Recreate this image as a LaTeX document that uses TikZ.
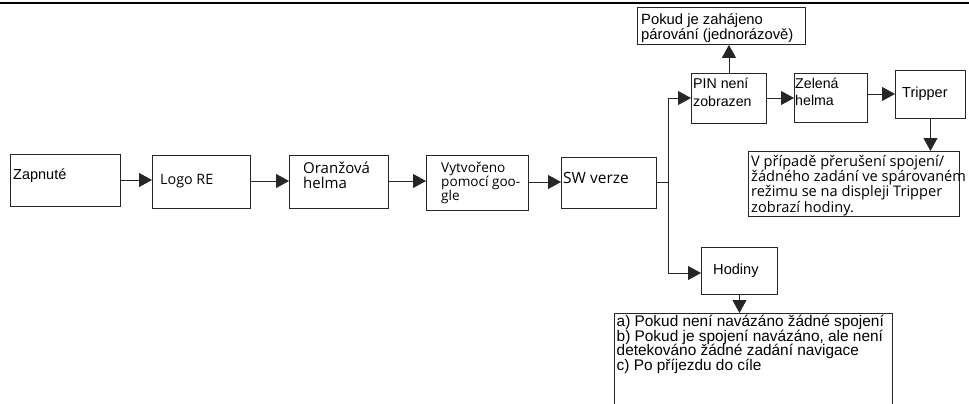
\documentclass[tikz,border=0pt]{standalone}
\usepackage{fontspec}
\setmainfont{Liberation Sans}
\newfontfamily\os{Open Sans}
\usetikzlibrary{arrows.meta}
\begin{document}
\begin{tikzpicture}[x=1pt,y=-1pt,
  bx/.style={draw=black!85, line width=0.9pt, anchor=north west, inner sep=0pt},
  tx/.style={anchor=base west, inner sep=0pt, align=left},
  ar/.style={draw=black!85, line width=0.9pt, -{Triangle[length=13pt,width=14pt]}},
  ln/.style={draw=black!85, line width=0.9pt},
  fa/.style={font=\fontsize{14.5}{17}\selectfont},
  fo/.style={font=\os\fontsize{15}{15}\selectfont}]
\useasboundingbox (0,0) rectangle (969,404);
\clip (0,0) rectangle (969,404);
\draw[line width=2.4pt] (0,3) -- (969,3);
% boxes
\node[bx, minimum width=110pt, minimum height=52pt] (zap) at (10,154) {};
\node[bx, minimum width=98pt, minimum height=53pt] (logo) at (152,155) {};
\node[bx, minimum width=99pt, minimum height=53pt] (oran) at (289,155) {};
\node[bx, minimum width=102pt, minimum height=55pt] (vytv) at (426,155) {};
\node[bx, minimum width=95pt, minimum height=51pt] (sw) at (561,157) {};
\node[bx, minimum width=75pt, minimum height=50pt] (pin) at (691,73) {};
\node[bx, minimum width=168pt, minimum height=37pt] (pokud) at (637,7) {};
\node[bx, minimum width=73pt, minimum height=49pt] (zel) at (794,73) {};
\node[bx, minimum width=70pt, minimum height=48pt] (trip) at (895,70) {};
\node[bx, minimum width=211pt, minimum height=65pt] (vpr) at (748,151) {};
\node[bx, minimum width=76pt, minimum height=47pt] (hod) at (701,247) {};
\node[bx, minimum width=278pt, minimum height=120pt] (low) at (614,313) {};
% texts (base = last line)
\node[tx, fa] (zapT) at (13,179) {Zapnuté};
\node[tx, font=\os\fontsize{14.3}{15}\selectfont] (logoT) at (160,184) {Logo RE};
\node[tx, fo] (oranT) at (303,188) {Oranžová\\helma};
\node[tx, font=\os\fontsize{13.6}{14}\selectfont] (vytvT) at (441,200.5) {Vytvořeno\\pomocí goo-\\gle};
\node[tx, font=\os\fontsize{15.5}{15}\selectfont] (swT) at (563,183) {SW verze};
\node[tx, font=\fontsize{14.2}{18}\selectfont] (pinT) at (693,106.5) {PIN není\\zobrazen};
\node[tx, font=\fontsize{14.2}{17}\selectfont] (zelT) at (795,105) {Zelená\\helma};
\node[tx, fa] (tripT) at (902,97) {Tripper};
\node[tx, font=\fontsize{14.8}{15}\selectfont] (pokudT) at (641,40) {Pokud je zahájeno\\párování (jednorázově)};
\node[tx, font=\os\fontsize{14.6}{15.2}\selectfont] (vprT) at (751,212) {V případě přerušení spojení/\\žádného zadání ve spárovaném\\režimu se na displeji Tripper\\zobrazí hodiny.};
\node[tx, font=\fontsize{14.6}{15}\selectfont] (hodT) at (713,274.5) {Hodiny};
\node[tx, font=\fontsize{15.4}{14.7}\selectfont] (lowT) at (616.5,370.6) {a) Pokud není navázáno žádné spojení\\b) Pokud je spojení navázáno, ale není\\detekováno žádné zadání navigace\\c) Po příjezdu do cíle};
% connectors
\coordinate (split) at (668,182);
\draw[ar] (zap.east |- 0,180) -- (logo.west |- 0,180);
\draw[ar] (logo.east |- 0,181) -- (oran.west |- 0,181);
\draw[ar] (oran.east |- 0,181) -- (vytv.west |- 0,181);
\draw[ar] (vytv.east |- 0,182) -- (sw.west |- 0,182);
\draw[ln] (sw.east |- split) -- (split);
\draw[ar] (split) |- (pin.west |- 0,98);
\draw[ar] (split) |- (hod.west |- 0,273);
\draw[ar] (pin.north) -- (pin.north |- pokud.south);
\draw[ar] (pin.east |- 0,98) -- (zel.west |- 0,98);
\draw[ar] (zel.east |- 0,94) -- (trip.west |- 0,94);
\draw[ar] (trip.south) -- (trip.south |- vpr.north);
\draw[ar] (hod.south) -- (hod.south |- low.north);
\end{tikzpicture}
\end{document}
